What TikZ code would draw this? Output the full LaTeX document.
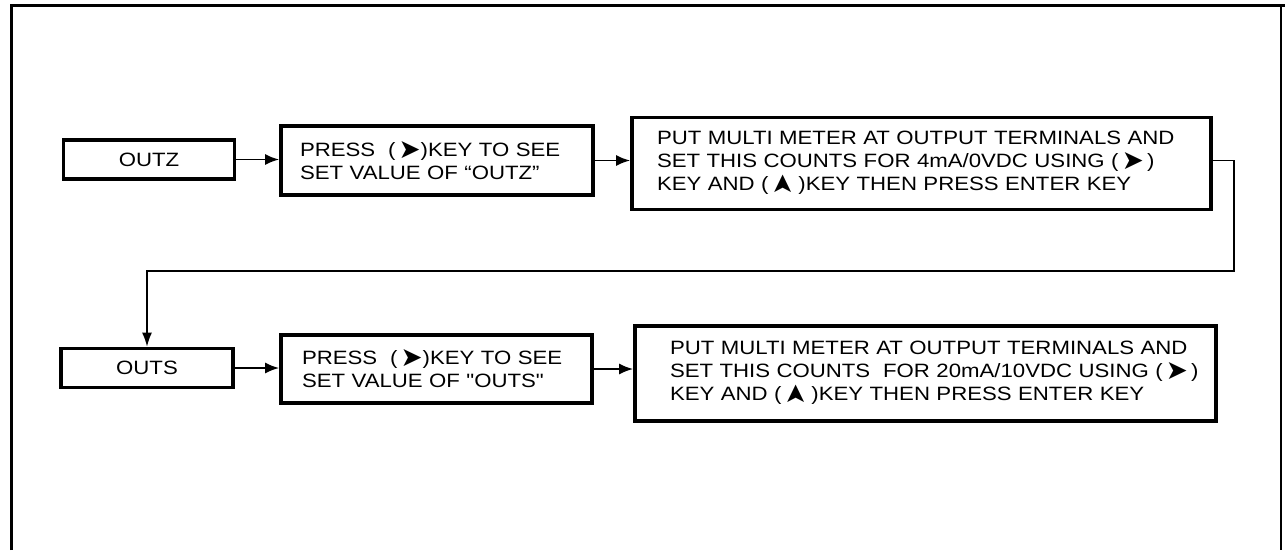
\documentclass[tikz,border=0pt]{standalone}
\usepackage{fontspec}
\setmainfont{Liberation Sans}[FakeStretch=1.15]
\newfontfamily\qfont{Liberation Sans}[FakeStretch=1.15,Ligatures=TeXOff]
\newfontfamily\symfont{DejaVu Sans}
\usetikzlibrary{arrows.meta}
\newcommand{\rch}{\raisebox{-2pt}{\resizebox{22pt}{17pt}{\symfont\char"27A4}}}
\newcommand{\uch}{\raisebox{-2pt}{\resizebox{17pt}{19pt}{\rotatebox[origin=c]{90}{\symfont\char"27A4}}}}
\tikzset{
  box/.style={draw, line width=3.8pt, inner sep=0pt, align=left,
    font=\fontsize{19.3}{23}\selectfont},
  arr/.style={line width=1.8pt, -{Latex[length=14pt,width=11pt]}},
  link/.style={line width=1.4pt, -{Latex[length=14pt,width=10pt]}}
}
\begin{document}
\begin{tikzpicture}[x=1pt,y=-1pt]
\useasboundingbox (0,0) rectangle (1285,550);
% frame
\draw[line width=3pt] (11,550) -- (11,5.5) -- (1285,5.5);
\draw[line width=1.5pt] (1281,5.5) -- (1281,550);
% row 1
\node[box, minimum width=171pt, minimum height=39pt, align=center] (outz) at (149,159.5) {OUTZ};
\node[box, minimum width=312pt, minimum height=69pt, text width=306pt] (b2) at (437,160.5)
  {\hspace*{16pt}PRESS\ \ (\,\rch)KEY TO SEE\\\hspace*{16pt}SET VALUE OF “OUTZ”};
\node[box, minimum width=579pt, minimum height=92pt, text width=573pt] (b3) at (921.5,163.5)
  {\hspace*{22pt}PUT MULTI METER AT OUTPUT TERMINALS AND\\\hspace*{22pt}SET THIS COUNTS FOR 4mA/0VDC USING (\,\rch\,)\\\hspace*{22pt}KEY AND ( \uch\ )KEY THEN PRESS ENTER KEY};
% row 2
\node[box, minimum width=172pt, minimum height=39pt, align=center] (outs) at (147,368) {OUTS};
\node[box, minimum width=311pt, minimum height=68pt, text width=305pt] (b4) at (436.5,369)
  {\hspace*{18pt}PRESS\ \ (\,\rch)KEY TO SEE\\\hspace*{18pt}SET VALUE OF {\qfont"OUTS"}};
\node[box, minimum width=581pt, minimum height=95pt, text width=575pt] (b5) at (925.5,373.5)
  {\hspace*{32pt}PUT MULTI METER AT OUTPUT TERMINALS AND\\\hspace*{32pt}SET THIS COUNTS\ \ FOR 20mA/10VDC USING (\,\rch\,)\\\hspace*{32pt}KEY AND ( \uch\ )KEY THEN PRESS ENTER KEY};
\coordinate (turn) at (1234,271);
% connectors
\draw[arr] (outz.east) -- (outz.east -| b2.west);
\draw[arr] (b2.east) -- (b2.east -| b3.west);
\draw[link] (b3.east |- b2.east) -| (turn) -| (outs.north);
\draw[arr] (outs.east) -- (outs.east -| b4.west);
\draw[arr] (b4.east) -- (b4.east -| b5.west);
\end{tikzpicture}
\end{document}
